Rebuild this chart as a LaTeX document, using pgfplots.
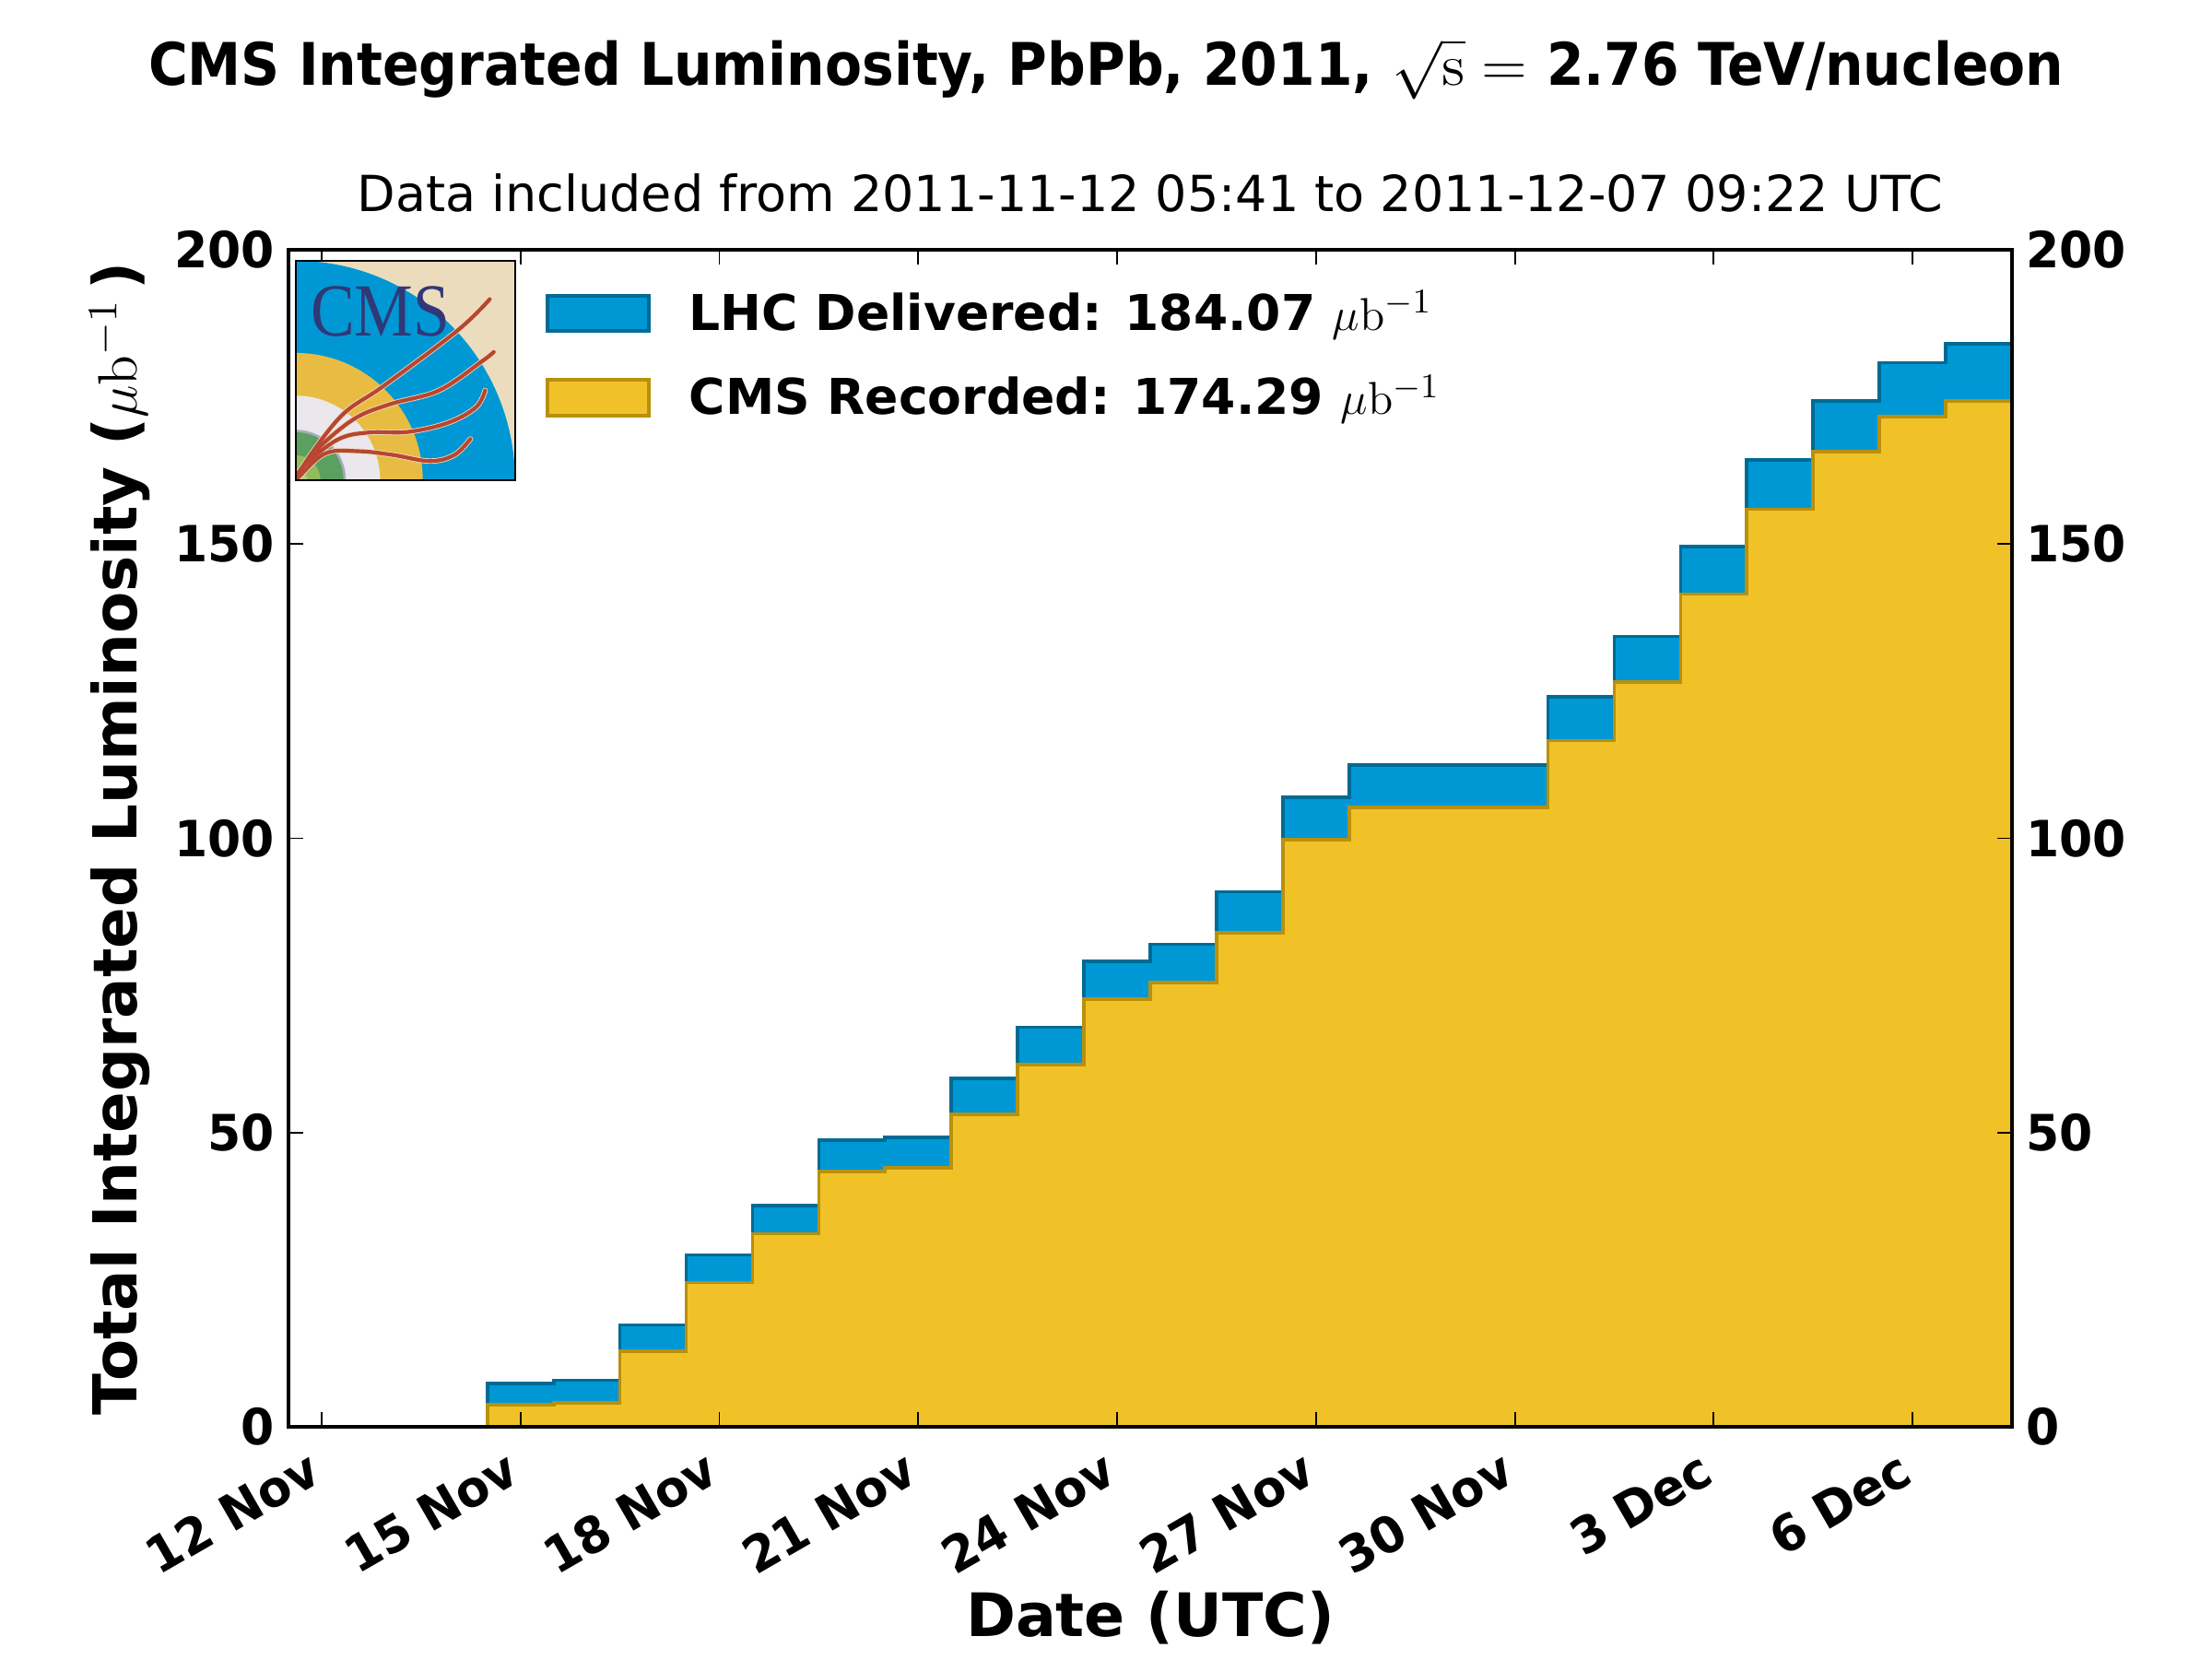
\documentclass[border=0pt]{standalone}
\usepackage[no-math]{fontspec}
\setmainfont{DejaVu Sans}
\newfontfamily\logofont{Liberation Serif}
\usepackage{pgfplots}
\pgfplotsset{compat=1.18}
\definecolor{lhcfill}{RGB}{0,152,212}
\definecolor{lhcline}{RGB}{0,107,148}
\definecolor{cmsfill}{RGB}{241,194,40}
\definecolor{cmsline}{RGB}{184,144,12}
\definecolor{trk}{RGB}{184,70,48}
\definecolor{logobg}{RGB}{236,220,190}
\definecolor{logoyel}{RGB}{232,188,66}
\definecolor{logogrey}{RGB}{234,232,236}
\definecolor{logoring}{RGB}{170,170,190}
\definecolor{logogreen}{RGB}{90,160,96}
\definecolor{logolime}{RGB}{146,188,92}
\definecolor{logopale}{RGB}{186,200,140}
\definecolor{logotext}{RGB}{48,56,120}
\begin{document}
\begin{tikzpicture}
\useasboundingbox (-75.12pt,-60.48pt) rectangle (500.88pt,371.52pt);
\begin{axis}[
  scale only axis, width=448.8pt, height=306.48pt,
  at={(0pt,0pt)}, anchor=south west,
  xmin=-0.5, xmax=25.5, ymin=0, ymax=200,
  axis on top,
  axis line style={line width=1pt},
  tick align=inside, major tick length=3.8pt,
  every tick/.style={black, line width=0.45pt},
  xtick={0,3,6,9,12,15,18,21,24},
  xticklabels={12 Nov,15 Nov,18 Nov,21 Nov,24 Nov,27 Nov,30 Nov,3 Dec,6 Dec},
  ytick={0,50,100,150,200},
  yticklabels={0,50,100,150,200},
  xtick pos=both, ytick pos=both,
  xticklabel pos=lower, yticklabel pos=left,
  extra y ticks={0,50,100,150,200},
  extra y tick labels={0,50,100,150,200},
  extra y tick style={yticklabel pos=right},
  tick label style={font=\fontsize{13}{15}\selectfont\bfseries},
  xticklabel style={rotate=30, xscale=0.97, anchor=north east, inner sep=0pt, xshift=-6.6pt, yshift=-2.6pt},
  yticklabel style={xscale=0.96, inner sep=3.6pt},
  xlabel={\fontsize{15.6}{18}\selectfont\bfseries Date (UTC)},
  ylabel={\fontsize{15.8}{18}\selectfont\bfseries Total Integrated Luminosity ($\mu\mathrm{b}^{-1}$\,)},
  every axis x label/.style={at={(axis description cs:0.5,0)}, anchor=center, yshift=-49.7pt},
  every axis y label/.style={at={(axis description cs:0,0.5)}, rotate=90, anchor=center, yshift=44pt},
  title={\fontsize{12.95}{15}\selectfont Data included from 2011-11-12 05:41 to 2011-12-07 09:22 UTC},
  every axis title/.style={at={(axis description cs:0.5,1)}, anchor=center, yshift=14.9pt},
  legend style={at={(0.1492,0.9715)}, anchor=north west, draw=none, fill=none,
    font=\fontsize{12.85}{15}\selectfont\bfseries, inner sep=0pt, outer sep=0pt,
    /tikz/every even column/.append style={column sep=0pt}, row sep=6.3pt},
  legend cell align=left,
  legend image code/.code={\draw[#1, line width=0.9pt] (0pt,-4.6pt) rectangle (26.4pt,4.6pt);},
]
\addplot[const plot mark left, fill=lhcfill, draw=lhcline, line width=0.9pt] coordinates {
 (0.5,0) (2.5,7.4) (3.5,7.9) (4.5,17.3) (5.5,29.2) (6.5,37.6) (7.5,48.7) (8.5,49.2)
 (9.5,59.2) (10.5,67.9) (11.5,79.1) (12.5,82.0) (13.5,90.9) (14.5,107.0) (15.5,112.4)
 (18.5,124.0) (19.5,134.3) (20.5,149.6) (21.5,164.3) (22.5,174.3) (23.5,180.8) (24.5,184.07) (25.5,184.07)
} \closedcycle;
\addlegendentry{\hspace{8.1pt}LHC Delivered: 184.07 $\mu\mathrm{b}^{-1}$}
\addplot[const plot mark left, fill=cmsfill, draw=cmsline, line width=0.9pt] coordinates {
 (0.5,0) (2.5,3.8) (3.5,4.1) (4.5,12.9) (5.5,24.5) (6.5,32.8) (7.5,43.4) (8.5,44.0)
 (9.5,53.1) (10.5,61.6) (11.5,72.7) (12.5,75.5) (13.5,84.0) (14.5,99.8) (15.5,105.3)
 (18.5,116.6) (19.5,126.6) (20.5,141.5) (21.5,155.9) (22.5,165.7) (23.5,171.7) (24.5,174.29) (25.5,174.29)
} \closedcycle;
\addlegendentry{\hspace{8.1pt}CMS Recorded: 174.29 $\mu\mathrm{b}^{-1}$}
\end{axis}
\node[anchor=center, xscale=0.915] at (212.9pt,353.5pt) {\fontsize{15.3}{18}\selectfont\bfseries CMS Integrated Luminosity, PbPb, 2011, \scalebox{1.19}[1.05]{$\sqrt{\mathrm{s}}=$} 2.76 TeV/nucleon};
% logo
\begin{scope}[shift={(1.85pt,246.5pt)},x=0.08pt,y=0.08pt]
  \begin{scope}
  \clip (0,0) rectangle (715,715);
  \fill[logobg] (0,0) rectangle (715,715);
  \fill[lhcfill] (0,0) circle (714);
  \fill[logoyel] (0,0) circle (414);
  \fill[logogrey] (0,0) circle (275);
  \fill[logoring] (0,0) circle (164);
  \fill[logogreen] (0,0) circle (156);
  \fill[logolime] (0,0) circle (81);
  \fill[logopale] (0,0) circle (38);
  \node[text=logotext, anchor=center, xscale=0.88, inner sep=0pt] at (276,549)
    {\logofont\fontsize{19.5}{20}\selectfont CMS};
  \foreach \c/\w in {logobg/1.4pt, trk/1pt} {
    \draw[\c, line width=\w, line cap=round] plot[smooth, tension=0.6] coordinates {(0,2) (52,87) (157,217) (287,307) (527,487) (632,589)};
    \draw[\c, line width=\w, line cap=round] plot[smooth, tension=0.6] coordinates {(0,2) (57,87) (187,197) (307,247) (467,292) (607,387) (645,417)};
    \draw[\c, line width=\w, line cap=round] plot[smooth, tension=0.6] coordinates {(0,2) (27,47) (137,132) (237,155) (367,157) (497,187) (587,237) (617,292)};
    \draw[\c, line width=\w, line cap=round] plot[smooth, tension=0.6] coordinates {(0,2) (7,7) (97,87) (207,94) (317,82) (437,62) (517,82) (569,134)};
  }
  \end{scope}
  \draw[black, line width=0.5pt] (0,0) rectangle (715,715);
\end{scope}
\end{tikzpicture}
\end{document}
